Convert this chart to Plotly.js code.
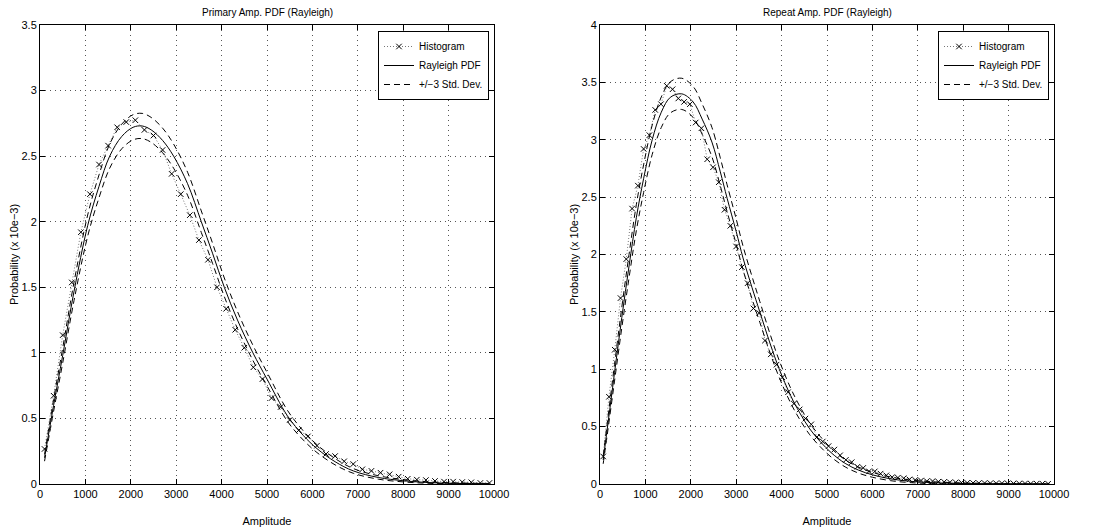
<!DOCTYPE html>
<html>
<head>
<meta charset="utf-8">
<script src="https://cdn.plot.ly/plotly-3.0.1.min.js"></script>
<style>html,body{margin:0;padding:0;background:#fff;}#chart{width:1096px;height:531px;}</style>
</head>
<body>
<div id="chart"></div>
<script>
// ---------- Left panel: Primary amplitude ----------
const primaryHistX = [100,300,500,700,900,1100,1300,1500,1700,1900,2100,2300,2500,2700,2900,3100,3300,3500,3700,3900,4100,4300,4500,4700,4900,5100,5300,5500,5700,5900,6100,6300,6500,6700,6900,7100,7300,7500,7700,7900,8100,8300,8500,8700,8900,9100,9300,9500,9700,9900];
const primaryHistY = [0.267,0.673,1.135,1.537,1.92,2.21,2.436,2.58,2.72,2.76,2.774,2.70,2.657,2.547,2.365,2.21,2.05,1.86,1.71,1.50,1.336,1.176,1.039,0.89,0.80,0.655,0.587,0.488,0.41,0.363,0.292,0.229,0.213,0.173,0.152,0.112,0.10,0.086,0.074,0.056,0.04,0.033,0.03,0.023,0.018,0.018,0.015,0.013,0.008,0.008];
const primaryCurveX = [100,300,500,750,1050,1300,1535,1800,2050,2250,2450,2700,2943,3250,3553,3800,4060,4350,4690,5000,5450,5800,6100,6500,6900,7450,8000,8500,9000,9500,9900];
const primaryPdf   = [0.20,0.60,0.98,1.47,1.97,2.27,2.50,2.65,2.72,2.73,2.70,2.62,2.50,2.29,2.00,1.76,1.50,1.25,1.00,0.80,0.52,0.37,0.27,0.17,0.10,0.05,0.025,0.012,0.006,0.003,0.0015];
const primaryUpper = [0.226,0.645,1.037,1.54,2.051,2.357,2.592,2.744,2.816,2.826,2.795,2.714,2.592,2.378,2.082,1.837,1.571,1.315,1.058,0.852,0.562,0.405,0.30,0.194,0.118,0.063,0.034,0.018,0.010,0.006,0.004];
const primaryLower = [0.174,0.555,0.923,1.40,1.889,2.183,2.408,2.556,2.624,2.634,2.605,2.526,2.408,2.202,1.918,1.683,1.429,1.185,0.942,0.748,0.478,0.335,0.24,0.146,0.082,0.037,0.016,0.006,0.002,0.0,0.0];

// ---------- Right panel: Repeat amplitude ----------
const repeatHistX = [70,197,325,452,579,707,834,961,1088,1216,1343,1470,1598,1725,1852,1980,2107,2234,2361,2489,2616,2743,2871,2998,3125,3252,3380,3507,3634,3762,3889,4016,4143,4271,4398,4525,4653,4780,4907,5034,5162,5289,5416,5544,5671,5798,5925,6053,6180,6307,6435,6562,6689,6816,6944,7071,7198,7326,7453,7580,7707,7835,7962,8089,8217,8344,8471,8598,8726,8853,8980,9108,9235,9362,9489,9617,9744,9871];
const repeatHistY = [0.24,0.76,1.17,1.62,1.96,2.40,2.60,2.92,3.04,3.26,3.31,3.47,3.44,3.36,3.33,3.31,3.15,3.10,2.83,2.76,2.63,2.39,2.25,2.07,1.89,1.75,1.53,1.49,1.25,1.13,1.04,0.93,0.80,0.70,0.65,0.57,0.52,0.41,0.37,0.33,0.30,0.25,0.21,0.19,0.15,0.14,0.11,0.11,0.09,0.075,0.06,0.055,0.05,0.04,0.035,0.03,0.025,0.025,0.02,0.018,0.015,0.014,0.012,0.01,0.009,0.008,0.008,0.007,0.006,0.006,0.005,0.005,0.004,0.004,0.003,0.003,0.003,0.002];
const repeatCurveX = [70,160,320,480,640,800,960,1150,1350,1550,1800,2050,2250,2465,2650,2800,3000,3150,3350,3520,3750,3950,4200,4400,4620,4850,5100,5400,5700,6000,6400,6800,7300,8000,9000,9900];
const repeatPdf   = [0.21,0.48,0.97,1.45,1.90,2.32,2.66,3.00,3.24,3.37,3.40,3.33,3.18,2.98,2.72,2.49,2.20,1.97,1.71,1.50,1.22,1.00,0.77,0.62,0.48,0.37,0.27,0.18,0.12,0.08,0.045,0.025,0.012,0.004,0.001,0.0];
const repeatUpper = [0.244,0.531,1.043,1.539,2.002,2.433,2.781,3.128,3.373,3.506,3.536,3.465,3.312,3.108,2.842,2.607,2.31,2.074,1.807,1.591,1.302,1.074,0.835,0.678,0.531,0.415,0.308,0.211,0.146,0.101,0.061,0.037,0.020,0.009,0.003,0.0];
const repeatLower = [0.176,0.429,0.897,1.361,1.798,2.207,2.539,2.872,3.107,3.234,3.264,3.195,3.048,2.852,2.598,2.373,2.09,1.866,1.613,1.409,1.138,0.926,0.705,0.562,0.429,0.325,0.232,0.149,0.094,0.059,0.029,0.013,0.004,0.0,0.0,0.0];

const xTicks = [0,1000,2000,3000,4000,5000,6000,7000,8000,9000,10000];
const legendNames = ["Histogram", "Rayleigh PDF", "+/\u22123 Std. Dev."];
const titles = ["Primary Amp. PDF (Rayleigh)", "Repeat Amp. PDF (Rayleigh)"];
const xTitle = "Amplitude";
const yTitle = "Probability (x 10e\u22123)";

const FONT = "Liberation Sans, Arial, Helvetica, sans-serif";

function panel(hx, hy, cx, pdf, up, lo, xa, ya, leg) {
  return [
    {x: hx, y: hy, xaxis: xa, yaxis: ya, legend: leg, name: legendNames[0], type: 'scatter', mode: 'lines+markers',
     line: {color: '#777', width: 1, dash: '1px,2px'},
     marker: {symbol: 'x-thin-open', size: 5.5, color: '#000', line: {color: '#000', width: 1}}},
    {x: cx, y: pdf, xaxis: xa, yaxis: ya, legend: leg, name: legendNames[1], type: 'scatter', mode: 'lines',
     line: {color: '#000', width: 1, shape: 'spline'}},
    {x: cx, y: up, xaxis: xa, yaxis: ya, legend: leg, name: legendNames[2], type: 'scatter', mode: 'lines',
     line: {color: '#000', width: 1, dash: '6px,4px', shape: 'spline'}},
    {x: cx, y: lo, xaxis: xa, yaxis: ya, legend: leg, name: legendNames[2], showlegend: false, type: 'scatter', mode: 'lines',
     line: {color: '#000', width: 1, dash: '6px,4px', shape: 'spline'}}
  ];
}

const data = [].concat(
  panel(primaryHistX, primaryHistY, primaryCurveX, primaryPdf, primaryUpper, primaryLower, 'x', 'y', 'legend'),
  panel(repeatHistX, repeatHistY, repeatCurveX, repeatPdf, repeatUpper, repeatLower, 'x2', 'y2', 'legend2')
);

function xaxis(domain, anchor) {
  return {domain: domain, anchor: anchor, range: [0, 10000], tickvals: xTicks, ticktext: xTicks.map(String),
    ticks: 'inside', ticklen: 5, tickcolor: '#000', mirror: 'ticks', showline: true, linecolor: '#000', linewidth: 1,
    showgrid: true, gridcolor: '#555', griddash: '1px,4px', gridwidth: 1, zeroline: false, automargin: false,
    tickfont: {family: FONT, size: 11, color: '#000'},
    title: {text: xTitle, font: {family: FONT, size: 11, color: '#000'}, standoff: 18}};
}
function yaxis(domain, anchor, maxv, dt) {
  return {domain: domain, anchor: anchor, range: [0, maxv], dtick: dt, tick0: 0,
    ticks: 'inside', ticklen: 5, tickcolor: '#000', mirror: 'ticks', showline: true, linecolor: '#000', linewidth: 1,
    showgrid: true, gridcolor: '#555', griddash: '1px,4px', gridwidth: 1, zeroline: false, automargin: false,
    tickfont: {family: FONT, size: 11, color: '#000'},
    title: {text: yTitle, font: {family: FONT, size: 11, color: '#000'}, standoff: 0}};
}

function legend(xr) {
  return {x: xr, y: 1 - 31/531, xref: 'paper', yref: 'paper', xanchor: 'right', yanchor: 'top',
    bgcolor: '#fff', bordercolor: '#000', borderwidth: 1, font: {family: FONT, size: 10, color: '#000'},
    tracegroupgap: 0, itemwidth: 30};
}

const layout = {
  width: 1096, height: 531,
  margin: {l: 0, r: 0, t: 0, b: 0, pad: 0},
  paper_bgcolor: '#fff', plot_bgcolor: '#fff',
  showlegend: true,
  xaxis: xaxis([40/1096, 494/1096], 'y'),
  yaxis: yaxis([1 - 484/531, 1 - 25/531], 'x', 3.5, 0.5),
  xaxis2: xaxis([600/1096, 1054/1096], 'y2'),
  yaxis2: yaxis([1 - 484/531, 1 - 25/531], 'x2', 4, 0.5),
  legend: legend(489/1096),
  legend2: legend(1049/1096),
  annotations: [
    {text: titles[0], x: 267/1096, y: 1 - 12/531, xref: 'paper', yref: 'paper', showarrow: false,
     xanchor: 'center', yanchor: 'middle', font: {family: FONT, size: 10, color: '#000'}},
    {text: titles[1], x: 827/1096, y: 1 - 12/531, xref: 'paper', yref: 'paper', showarrow: false,
     xanchor: 'center', yanchor: 'middle', font: {family: FONT, size: 10, color: '#000'}}
  ]
};

Plotly.newPlot('chart', data, layout, {displayModeBar: false, staticPlot: true});
</script>
</body>
</html>
